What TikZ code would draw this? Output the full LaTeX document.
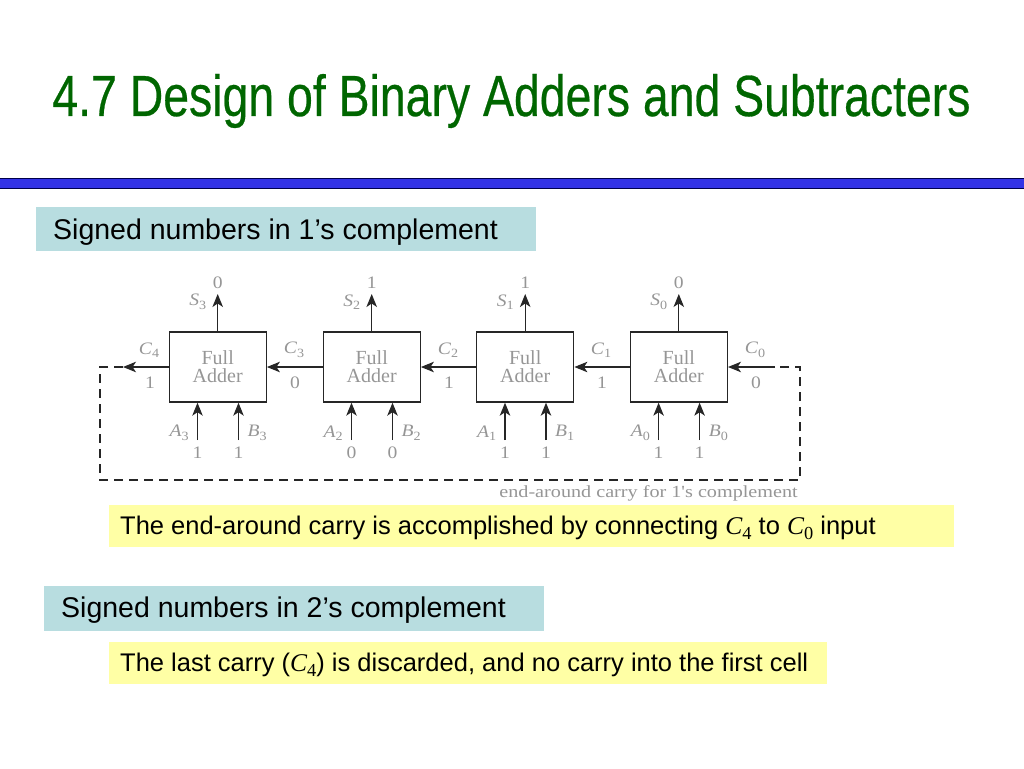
\documentclass[tikz,border=0pt]{standalone}
\usepackage{fontspec}
\setmainfont{Liberation Sans}
\newfontfamily\serifrm{Liberation Serif}
\newfontfamily\titlefont[FakeBold=0.5]{Liberation Sans}
\usetikzlibrary{arrows.meta}
\usetikzlibrary{calc}
\definecolor{titlegreen}{RGB}{0,102,0}
\definecolor{barblue}{RGB}{51,51,230}
\definecolor{headteal}{RGB}{184,221,224}
\definecolor{noteyellow}{RGB}{255,255,165}
\definecolor{labelgray}{RGB}{150,150,150}
\newcommand{\varsub}[2]{{\serifrm\itshape #1}\raisebox{-.2em}{\serifrm\fontsize{.72em}{1em}\selectfont #2}}
\tikzset{
  headbox/.style={fill=headteal, anchor=north west, minimum width=500, minimum height=44.5, inner sep=0},
  headtext/.style={anchor=west, inner sep=0, font=\fontsize{28.5}{30}\selectfont},
  notebox/.style={fill=noteyellow, anchor=west, minimum height=42, inner sep=0},
  notetext/.style={anchor=west, inner sep=0, font=\fontsize{25.5}{28}\selectfont},
  adder/.style={draw=black!85, line width=1.4, minimum width=97, minimum height=70, inner sep=0, align=center, text=labelgray, font=\serifrm\fontsize{20}{18}\selectfont},
  lab/.style={text=labelgray, inner sep=0, xscale=1.12, font=\serifrm\fontsize{17.5}{18}\selectfont},
  wire/.style={black!85, line width=1.1, -{Stealth[length=13pt,width=10.5pt,inset=3.5pt]}},
  loopwire/.style={black!85, line width=1.2, dash pattern=on 9pt off 6pt},
}
\begin{document}
\begin{tikzpicture}[x=1pt,y=-1pt]
\useasboundingbox (0,0) rectangle (1024,768);
\fill[white] (0,0) rectangle (1024,768);
% title and rule
\node[text=titlegreen, xscale=.80, font=\titlefont\fontsize{58}{60}\selectfont, inner sep=0] (title) at (511.5,101) {4.7 Design of Binary Adders and Subtracters};
\draw[fill=barblue, draw=black!70!blue, line width=.8] (-2,178.5) rectangle (1026,188);
% headings and notes
\node[headbox] (head1) at (36,206.5) {};
\node[headtext] (head1t) at (53,232) {Signed numbers in 1’s complement};
\node[notebox, minimum width=845] (note1) at (109,526) {};
\node[notetext] (note1t) at (120,527.5) {The end-around carry is accomplished by connecting \varsub{C}{4} to \varsub{C}{0} input};
\node[headbox] (head2) at (44,586) {};
\node[headtext] (head2t) at (61,610.5) {Signed numbers in 2’s complement};
\node[notebox, minimum width=718] (note2) at (109,663) {};
\node[notetext] (note2t) at (120,664.5) {The last carry ({\serifrm\varsub{C}{4}}) is discarded, and no carry into the first cell};
% full adders
\foreach \i/\xc/\sv/\av/\bv in {3/217.7/0/1/1, 2/371.7/1/0/0, 1/525.2/1/1/1, 0/678.8/0/1/1} {
  \node[adder] (fa\i) at (\xc,367) {Full\\Adder};
  \coordinate (sout\i) at (\xc,294);
  \coordinate (ain\i) at (\xc-20.2,440);
  \coordinate (bin\i) at (\xc+20.8,440);
  \draw[wire] (fa\i.north) -- (sout\i);
  \draw[wire] (ain\i) -- (ain\i |- fa\i.south);
  \draw[wire] (bin\i) -- (bin\i |- fa\i.south);
  \node[lab] (sval\i) at (\xc,283) {\sv};
  \node[lab] (slab\i) at (\xc-20,302) {\varsub{S}{\i}};
  \node[lab] (alab\i) at (\xc-38.5,433) {\varsub{A}{\i}};
  \node[lab] (blab\i) at (\xc+39.5,433) {\varsub{B}{\i}};
  \node[lab] (aval\i) at (\xc-20.2,453) {\av};
  \node[lab] (bval\i) at (\xc+20.8,453) {\bv};
}
% carries
\draw[wire] (fa2.west) -- (fa3.east);
\draw[wire] (fa1.west) -- (fa2.east);
\draw[wire] (fa0.west) -- (fa1.east);
\coordinate (cfour) at (123,367);
\coordinate (czero) at (775,367);
\coordinate (loopa) at (100,367);
\coordinate (loopb) at (100,480);
\coordinate (loopc) at (800,480);
\coordinate (loopd) at (800,367);
\draw[wire] (fa3.west) -- (cfour);
\draw[wire] (czero) -- (fa0.east);
\draw[loopwire] (cfour) -- (loopa) -- (loopb) -- (loopc) -- (loopd) -- (czero);
\foreach \n/\x/\y/\v in {4/149/383/1, 3/294/383/0, 2/448/383/1, 1/601/383/1, 0/755/383/0} {
  \node[lab] (clab\n) at (\x,350) {\varsub{C}{\n}};
  \node[lab] (cval\n) at (\x+1,\y) {\v};
}
\node[lab, anchor=east, xscale=1.06, font=\serifrm\fontsize{17}{18}\selectfont] (looplab) at (798,493) {end-around carry for 1's complement};
\end{tikzpicture}
\end{document}
